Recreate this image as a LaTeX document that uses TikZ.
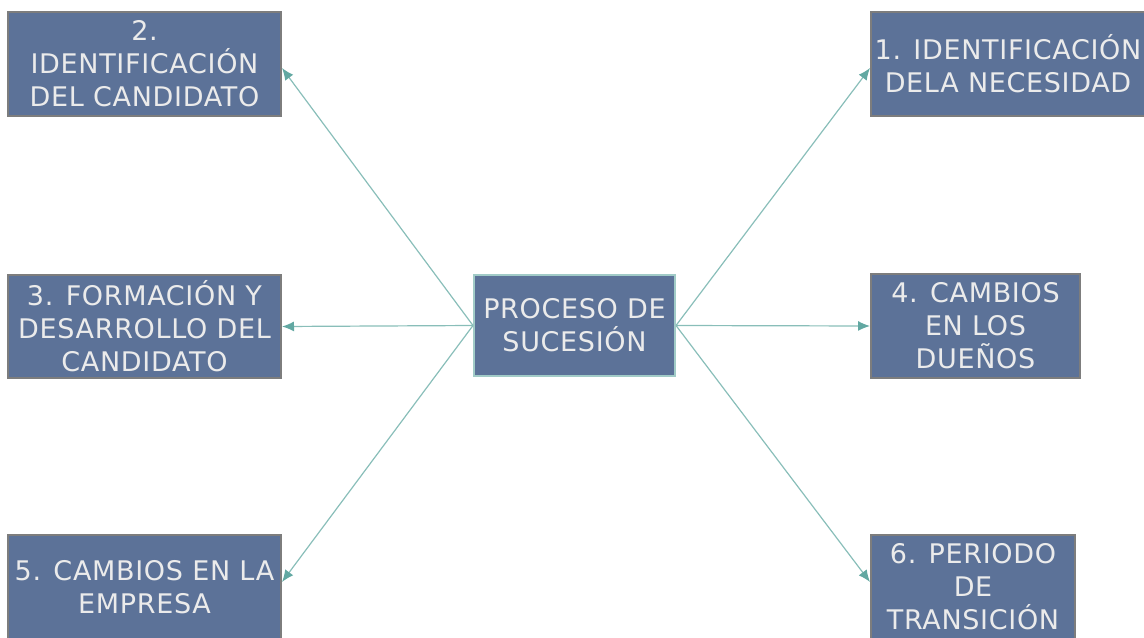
\documentclass[tikz,border=0pt]{standalone}
\usepackage{fontspec}
\setmainfont{DejaVu Sans}[LetterSpace=2.5]
\usetikzlibrary{arrows.meta}
\definecolor{cajaazul}{RGB}{92,114,152}
\definecolor{bordegris}{RGB}{125,125,125}
\definecolor{verdeflecha}{RGB}{98,168,162}
\begin{document}
\begin{tikzpicture}[x=.5pt,y=-.5pt,
    caja/.style={draw=bordegris, line width=1pt, fill=cajaazul, text=white!92!black,
      align=center, inner sep=0pt, font=\fontsize{13.5}{16.5}\selectfont},
    flecha/.style={draw=verdeflecha!75, line width=.6pt,
      -{Latex[length=6pt,width=5pt,color=verdeflecha]}}]
    \useasboundingbox (0,0) rectangle (1144,637);
    \clip (0,0) rectangle (1144,637);
    \node[caja, minimum width=100.5pt, minimum height=50.5pt, draw=verdeflecha!60] (proceso) at (574.5,325.5) {PROCESO DE\\SUCESIÓN};
    \node[caja, minimum width=137pt, minimum height=52pt] (paso1) at (1008,64) {1. IDENTIFICACIÓN\\DELA NECESIDAD};
    \node[caja, minimum width=136.5pt, minimum height=52pt] (paso2) at (144.5,64) {2.\\IDENTIFICACIÓN\\DEL CANDIDATO};
    \node[caja, minimum width=136.5pt, minimum height=51.5pt] (paso3) at (144.5,326.5) {3. FORMACIÓN Y\\DESARROLLO DEL\\CANDIDATO};
    \node[caja, minimum width=104.5pt, minimum height=52pt] (paso4) at (975.5,326) {4. CAMBIOS\\EN LOS\\DUEÑOS};
    \node[caja, minimum width=136.5pt, minimum height=52pt] (paso5) at (144.5,587) {5. CAMBIOS EN LA\\EMPRESA};
    \node[caja, minimum width=102pt, minimum height=52pt] (paso6) at (973,587) {6. PERIODO\\DE\\TRANSICIÓN};
    \draw[flecha] (proceso.east) -- ([yshift=-2pt]paso1.west);
    \draw[flecha] (proceso.west) -- ([yshift=-2pt]paso2.east);
    \draw[flecha] (proceso.west) -- (paso3.east);
    \draw[flecha] (proceso.east) -- (paso4.west);
    \draw[flecha] (proceso.west) -- ([yshift=2.5pt]paso5.east);
    \draw[flecha] (proceso.east) -- ([yshift=2.5pt]paso6.west);
\end{tikzpicture}
\end{document}
